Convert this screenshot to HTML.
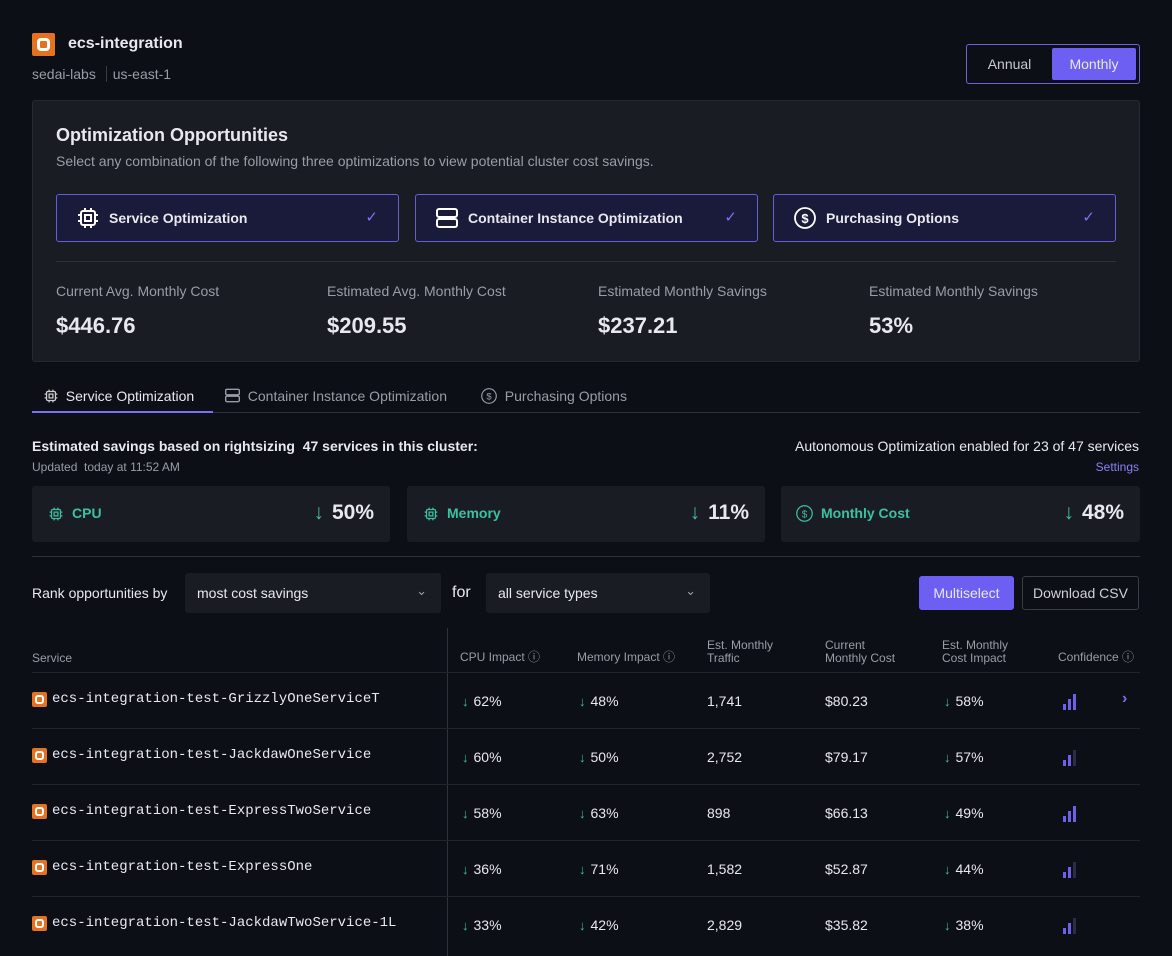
<!DOCTYPE html>
<html><head><meta charset="utf-8"><style>
*{box-sizing:border-box;margin:0;padding:0}
body{width:1172px;height:956px;background:#0d0f16;color:#e8e9ee;font-family:"Liberation Sans",sans-serif;position:relative;overflow:hidden}
.a{position:absolute;white-space:nowrap}
.g{color:#9a9ca6}
.card{position:absolute;background:#1a1a3a;border:1px solid #655ed4;border-radius:3px;height:48px;top:194px}
.card span{position:absolute;left:52px;top:15px;font-size:14px;font-weight:bold}
.card .ck{position:absolute;right:20px;top:13px;color:#7c72f0;font-size:15px}
.st{position:absolute;top:486px;height:56px;background:#1a1c24;border-radius:3px}
.st .l{position:absolute;left:40px;top:19px;color:#3cc0a0;font-size:14px;font-weight:bold}
.st .v{position:absolute;right:16px;top:15px;font-size:21px;font-weight:bold}
.st .v b{color:#3cc0a0;font-weight:normal;margin-right:8px}
.hd{position:absolute;font-size:12px;color:#9a9ca6;line-height:13px}
.cell{position:absolute;font-size:14px}
.dn{color:#3cc0a0;font-size:13px;margin-right:5px}
</style></head><body>
<div class="a" style="left:32px;top:33px;width:23px;height:23px;background:#e4721e;border-radius:2px"><div style="position:absolute;left:5px;top:5px;width:13px;height:13px;border:3px solid #fff;border-radius:4px"></div></div>
<div class="a" style="left:68px;top:35px;font-size:16px;font-weight:bold">ecs-integration</div>
<div class="a g" style="left:32px;top:66px;font-size:14px">sedai-labs <span style="border-left:1px solid #3a3c45;margin:0 6px"></span> us-east-1</div>
<div class="a" style="left:966px;top:44px;width:174px;height:40px;border:1px solid #6b63e0;border-radius:3px">
<div class="a" style="left:0;top:0;width:85px;height:38px;line-height:38px;text-align:center;font-size:14px;color:#c8c9d0">Annual</div>
<div class="a" style="left:85px;top:3px;width:84px;height:32px;line-height:32px;text-align:center;font-size:14px;background:#6c5ff2;border-radius:2px">Monthly</div></div>

<div class="a" style="left:32px;top:100px;width:1108px;height:262px;background:#1a1c24;border:1px solid #262832;border-radius:3px"></div>
<div class="a" style="left:56px;top:125px;font-size:18px;font-weight:bold">Optimization Opportunities</div>
<div class="a g" style="left:56px;top:153px;font-size:14px">Select any combination of the following three optimizations to view potential cluster cost savings.</div>
<div class="card" style="left:56px;width:343px"><svg class="a" style="left:20px;top:12px" width="22" height="22" viewBox="0 0 22 22" fill="none" stroke="#fff" stroke-width="2"><rect x="4" y="4" width="14" height="14" rx="2"/><rect x="8" y="8" width="6" height="6"/><path d="M8 1v3M14 1v3M8 18v3M14 18v3M1 8h3M1 14h3M18 8h3M18 14h3"/></svg><span>Service Optimization</span><div class="ck">✓</div></div>
<div class="card" style="left:415px;width:343px"><svg class="a" style="left:20px;top:12px" width="22" height="22" viewBox="0 0 22 22" fill="none" stroke="#fff" stroke-width="2"><rect x="1" y="2" width="20" height="8" rx="2"/><rect x="1" y="12" width="20" height="8" rx="2"/></svg><span>Container Instance Optimization</span><div class="ck">✓</div></div>
<div class="card" style="left:773px;width:343px"><svg class="a" style="left:20px;top:12px" width="22" height="22" viewBox="0 0 22 22"><circle cx="11" cy="11" r="10" fill="none" stroke="#fff" stroke-width="1.8"/><text x="11" y="16" text-anchor="middle" font-size="13" font-weight="bold" fill="#fff" font-family="Liberation Sans">$</text></svg><span>Purchasing Options</span><div class="ck">✓</div></div>
<div class="a" style="left:56px;top:261px;width:1060px;height:1px;background:#30323b"></div>
<div class="a g" style="left:56px;top:283px;font-size:14px">Current Avg. Monthly Cost</div>
<div class="a" style="left:56px;top:313px;font-size:22px;font-weight:bold">$446.76</div>
<div class="a g" style="left:327px;top:283px;font-size:14px">Estimated Avg. Monthly Cost</div>
<div class="a" style="left:327px;top:313px;font-size:22px;font-weight:bold">$209.55</div>
<div class="a g" style="left:598px;top:283px;font-size:14px">Estimated Monthly Savings</div>
<div class="a" style="left:598px;top:313px;font-size:22px;font-weight:bold">$237.21</div>
<div class="a g" style="left:869px;top:283px;font-size:14px">Estimated Monthly Savings</div>
<div class="a" style="left:869px;top:313px;font-size:22px;font-weight:bold">53%</div>

<div class="a" style="left:32px;top:412px;width:1108px;height:1px;background:#30323b"></div>
<div class="a" style="left:32px;top:411px;width:181px;height:2px;background:#7c70f5"></div>
<div class="a" style="left:44px;top:388px;font-size:14px"><svg width="14" height="14" viewBox="0 0 22 22" fill="none" stroke="#ccc" stroke-width="2" style="vertical-align:-2px"><rect x="4" y="4" width="14" height="14" rx="2"/><rect x="8" y="8" width="6" height="6"/><path d="M8 1v3M14 1v3M8 18v3M14 18v3M1 8h3M1 14h3M18 8h3M18 14h3"/></svg>&nbsp; Service Optimization</div>
<div class="a g" style="left:225px;top:388px;font-size:14px"><svg width="15" height="15" viewBox="0 0 22 22" fill="none" stroke="#9a9ca6" stroke-width="2" style="vertical-align:-2px"><rect x="1" y="2" width="20" height="8" rx="2"/><rect x="1" y="12" width="20" height="8" rx="2"/></svg>&nbsp; Container Instance Optimization</div>
<div class="a g" style="left:481px;top:388px;font-size:14px"><svg width="16" height="16" viewBox="0 0 22 22" style="vertical-align:-3px"><circle cx="11" cy="11" r="10" fill="none" stroke="#9a9ca6" stroke-width="1.6"/><text x="11" y="16" text-anchor="middle" font-size="13" fill="#9a9ca6" font-family="Liberation Sans">$</text></svg>&nbsp; Purchasing Options</div>

<div class="a" style="left:32px;top:438px;font-size:14px;font-weight:bold">Estimated savings based on rightsizing&nbsp; 47 services in this cluster:</div>
<div class="a g" style="left:32px;top:460px;font-size:12px">Updated&nbsp; today at 11:52 AM</div>
<div class="a" style="right:33px;top:438px;font-size:14px">Autonomous Optimization enabled for 23 of 47 services</div>
<div class="a" style="right:33px;top:460px;font-size:12px;color:#8a80f5">Settings</div>

<div class="st" style="left:32px;width:358px"><svg class="a" style="left:17px;top:21px" width="14" height="14" viewBox="0 0 22 22" fill="none" stroke="#3cc0a0" stroke-width="2"><rect x="4" y="4" width="14" height="14" rx="2"/><rect x="8" y="8" width="6" height="6"/><path d="M8 1v3M14 1v3M8 18v3M14 18v3M1 8h3M1 14h3M18 8h3M18 14h3"/></svg><div class="l">CPU</div><div class="v"><b>↓</b>50%</div></div>
<div class="st" style="left:407px;width:358px"><svg class="a" style="left:17px;top:21px" width="14" height="14" viewBox="0 0 22 22" fill="none" stroke="#3cc0a0" stroke-width="2"><rect x="4" y="4" width="14" height="14" rx="2"/><rect x="8" y="8" width="6" height="6"/><path d="M8 1v3M14 1v3M8 18v3M14 18v3M1 8h3M1 14h3M18 8h3M18 14h3"/></svg><div class="l">Memory</div><div class="v"><b>↓</b>11%</div></div>
<div class="st" style="left:781px;width:359px"><svg class="a" style="left:15px;top:19px" width="17" height="17" viewBox="0 0 22 22"><circle cx="11" cy="11" r="10" fill="none" stroke="#3cc0a0" stroke-width="1.6"/><text x="11" y="16" text-anchor="middle" font-size="13" fill="#3cc0a0" font-family="Liberation Sans">$</text></svg><div class="l">Monthly Cost</div><div class="v"><b>↓</b>48%</div></div>
<div class="a" style="left:32px;top:556px;width:1108px;height:1px;background:#30323b"></div>

<div class="a" style="left:32px;top:585px;font-size:14px">Rank opportunities by</div>
<div class="a" style="left:185px;top:573px;width:256px;height:40px;background:#1a1c24;border-radius:3px"><div class="a" style="left:12px;top:12px;font-size:14px">most cost savings</div><div class="a g" style="right:14px;top:10px;font-size:13px">⌄</div></div>
<div class="a" style="left:452px;top:584px;font-size:16px">for</div>
<div class="a" style="left:486px;top:573px;width:224px;height:40px;background:#1a1c24;border-radius:3px"><div class="a" style="left:12px;top:12px;font-size:14px">all service types</div><div class="a g" style="right:14px;top:10px;font-size:13px">⌄</div></div>
<div class="a" style="left:919px;top:576px;width:95px;height:34px;background:#6c5ff2;border-radius:3px;text-align:center;line-height:34px;font-size:14px">Multiselect</div>
<div class="a" style="left:1022px;top:576px;width:117px;height:34px;border:1px solid #3a3c46;border-radius:3px;text-align:center;line-height:32px;font-size:14px;color:#d0d1d8">Download CSV</div>

<div class="a" style="left:447px;top:628px;width:1px;height:328px;background:#30323b"></div>
<div class="hd" style="left:32px;top:652px">Service</div>
<div class="hd" style="left:460px;top:651px">CPU Impact ⓘ</div>
<div class="hd" style="left:577px;top:651px">Memory Impact ⓘ</div>
<div class="hd" style="left:707px;top:639px">Est. Monthly<br>Traffic</div>
<div class="hd" style="left:825px;top:639px">Current<br>Monthly Cost</div>
<div class="hd" style="left:942px;top:639px">Est. Monthly<br>Cost Impact</div>
<div class="hd" style="left:1058px;top:651px">Confidence ⓘ</div>
<div class="a" style="left:32px;top:672px;width:1108px;height:1px;background:#22242c"></div>
<div id="rows"></div>
<script>
const services=["ecs-integration-test-GrizzlyOneServiceT","ecs-integration-test-JackdawOneService","ecs-integration-test-ExpressTwoService","ecs-integration-test-ExpressOne","ecs-integration-test-JackdawTwoService-1L"];
const cpuImpact=[62,60,58,36,33];
const memImpact=[48,50,63,71,42];
const traffic=["1,741","2,752","898","1,582","2,829"];
const cost=["$80.23","$79.17","$66.13","$52.87","$35.82"];
const costImpact=[58,57,49,44,38];
const confidence=[3,2,3,2,2];
const R=document.getElementById('rows');
services.forEach((s,i)=>{
 const y=673+i*56;
 const row=document.createElement('div');
 row.className='a';
 row.style.cssText=`left:0;top:${y}px;width:1172px;height:56px`;
 
 
 let h=`<div class="a" style="left:32px;top:19px;width:15px;height:15px;background:#e4721e;border-radius:2px"><div class="a" style="left:3px;top:3px;width:9px;height:9px;border:2px solid #fff;border-radius:3px"></div></div>`;
 h+=`<div class="cell" style="left:52px;top:18px;font-family:'Liberation Mono',monospace;font-size:14px">${s}</div>`;
 h+=`<div class="cell" style="left:462px;top:20px"><span class="dn">↓</span>${cpuImpact[i]}%</div>`;
 h+=`<div class="cell" style="left:579px;top:20px"><span class="dn">↓</span>${memImpact[i]}%</div>`;
 h+=`<div class="cell" style="left:707px;top:20px">${traffic[i]}</div>`;
 h+=`<div class="cell" style="left:825px;top:20px">${cost[i]}</div>`;
 h+=`<div class="cell" style="left:944px;top:20px"><span class="dn">↓</span>${costImpact[i]}%</div>`;
 for(let b=0;b<3;b++){const bh=6+b*5;h+=`<div class="a" style="left:${1063+b*5}px;top:${37-bh}px;width:3px;height:${bh}px;background:${b<confidence[i]?'#6c62e8':'#2a2c48'}"></div>`;}
 if(i==0)h+=`<div class="a" style="left:1122px;top:17px;color:#7c70f5;font-size:16px;font-weight:bold">›</div>`;
 if(i<services.length-1)h+=`<div class="a" style="left:32px;top:55px;width:1108px;height:1px;background:#22242c"></div>`;
 row.innerHTML=h;R.appendChild(row);
});
</script>
</body></html>
